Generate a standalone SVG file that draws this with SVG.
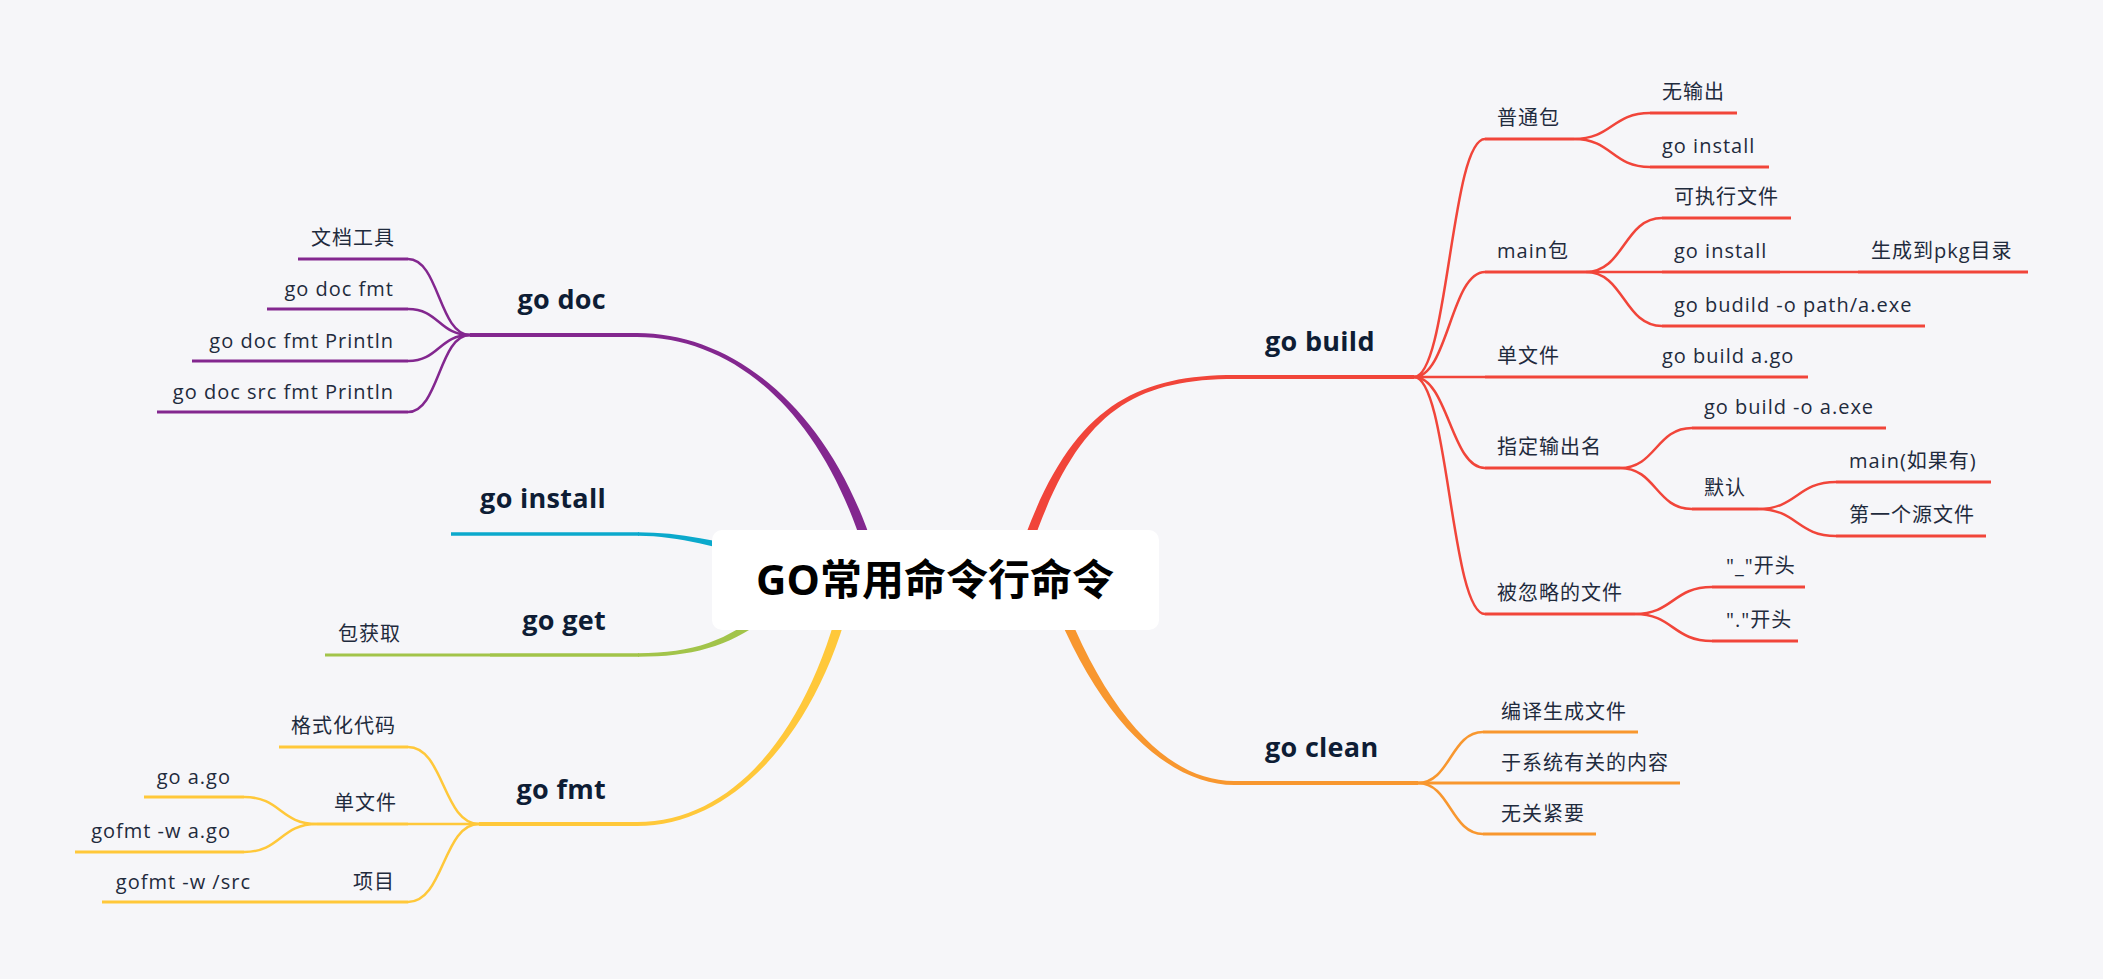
<svg xmlns="http://www.w3.org/2000/svg" width="2103" height="979" viewBox="0 0 2103 979">
<style>
text{font-family:'Open Sans','Noto Sans CJK SC',sans-serif;}
.t{font-size:20px;fill:#1F2B3D;letter-spacing:1px;}
.m{font-size:27px;font-weight:700;fill:#0E1D35;letter-spacing:0.3px;}
.title{font-size:42px;font-weight:700;fill:#000;}
.e{text-anchor:end;}
.c{fill:none;stroke-linecap:butt;}
.l4{stroke-width:4;}
.l3{stroke-width:3;}
.l25{stroke-width:2.5;}
.red{stroke:#F1453A;}
.ora{stroke:#F8972F;}
.pur{stroke:#83278F;}
.blu{stroke:#0BA9CC;}
.grn{stroke:#A2C44A;}
.yel{stroke:#FFC83A;}
</style>
<rect x="0" y="0" width="2103" height="979" fill="#F6F6F9"/>
<g id="connectors">
  <path fill="#F1453A" d="M1014.8,601.3 C1064.8,421.3 1120,379 1235,379 L1235,375 C1120,375 1055.2,418.7 1005.2,598.7 Z"/>
  <path fill="#F8972F" d="M1045.3,581.7 C1095.3,721.7 1170,785 1234,785 L1234,781 C1170,781 1104.7,718.3 1054.7,578.3 Z"/>
  <path fill="#83278F" d="M884.9,588.9 C844.9,418.9 740,333 637,333 L637,337 C740,337 835.1,421.1 875.1,591.1 Z"/>
  <path fill="#0BA9CC" d="M760.85,551.6 C720.85,541.6 680,532.2 638,532.2 L638,535.7 C680,535.7 719.15,548.4 759.15,558.4 Z"/>
  <path fill="#A2C44A" d="M777.2,597.2 C737.2,637.2 700,653.25 638,653.25 L638,656.75 C700,656.75 742.8,642.8 782.8,602.8 Z"/>
  <path fill="#FFC83A" d="M845.1,579 C815.1,719 740,822 637,822 L637,826 C740,826 824.9,721 854.9,581 Z"/>
  <path class="c l4 red" d="M1234,377 H1414"/>
  <path class="c l4 ora" d="M1233,783 H1418"/>
  <path class="c l4 pur" d="M638,335 H470"/>
  <path class="c l4 blu" d="M639,534 H451" style="stroke-width:3.5"/>
  <path class="c l4 grn" d="M639,655 H490" style="stroke-width:3.5"/>
  <path class="c l4 yel" d="M638,824 H479"/>
  <path class="c l25 red" d="M1414,377 C1448,377 1451,139 1485,139"/>
  <path class="c l25 red" d="M1414,377 C1448,377 1451,272 1485,272"/>
  <path class="c l25 red" d="M1414,377 H1485"/>
  <path class="c l25 red" d="M1414,377 C1448,377 1451,468 1485,468"/>
  <path class="c l25 red" d="M1414,377 C1448,377 1451,614 1485,614"/>
  <path class="c l3 red" d="M1485,139 H1574"/>
  <path class="c l3 red" d="M1485,272 H1586"/>
  <path class="c l3 red" d="M1485,377 H1650"/>
  <path class="c l3 red" d="M1485,468 H1620"/>
  <path class="c l3 red" d="M1485,614 H1635"/>
  <path class="c l25 red" d="M1574,139 C1612,139 1612,113 1650,113"/>
  <path class="c l25 red" d="M1574,139 C1612,139 1612,167 1650,167"/>
  <path class="c l3 red" d="M1650,113 H1737"/>
  <path class="c l3 red" d="M1650,167 H1769"/>
  <path class="c l25 red" d="M1586,272 C1624,272 1624,218 1662,218"/>
  <path class="c l25 red" d="M1586,272 H1662"/>
  <path class="c l25 red" d="M1586,272 C1624,272 1624,326 1662,326"/>
  <path class="c l3 red" d="M1662,218 H1791"/>
  <path class="c l3 red" d="M1662,272 H1780"/>
  <path class="c l3 red" d="M1662,326 H1925"/>
  <path class="c l25 red" d="M1780,272 H1858"/>
  <path class="c l3 red" d="M1858,272 H2028"/>
  <path class="c l3 red" d="M1650,377 H1808"/>
  <path class="c l25 red" d="M1620,468 C1656,468 1656,428 1692,428"/>
  <path class="c l25 red" d="M1620,468 C1656,468 1656,509 1692,509"/>
  <path class="c l3 red" d="M1692,428 H1886"/>
  <path class="c l3 red" d="M1692,509 H1758"/>
  <path class="c l25 red" d="M1758,509 C1797,509 1797,482 1836,482"/>
  <path class="c l25 red" d="M1758,509 C1797,509 1797,536 1836,536"/>
  <path class="c l3 red" d="M1836,482 H1991"/>
  <path class="c l3 red" d="M1836,536 H1986"/>
  <path class="c l25 red" d="M1635,614 C1673,614 1673,587 1712,587"/>
  <path class="c l25 red" d="M1635,614 C1673,614 1673,641 1712,641"/>
  <path class="c l3 red" d="M1712,587 H1805"/>
  <path class="c l3 red" d="M1712,641 H1798"/>
  <path class="c l25 ora" d="M1418,783 C1450,783 1451,732 1483,732"/>
  <path class="c l25 ora" d="M1418,783 C1450,783 1451,834 1483,834"/>
  <path class="c l3 ora" d="M1418,783 H1680"/>
  <path class="c l3 ora" d="M1483,732 H1638"/>
  <path class="c l3 ora" d="M1483,834 H1596"/>
  <path class="c l25 pur" d="M470,335 C439,335 439,259 408,259"/>
  <path class="c l25 pur" d="M470,335 C439,335 439,309 408,309"/>
  <path class="c l25 pur" d="M470,335 C439,335 439,361 408,361"/>
  <path class="c l25 pur" d="M470,335 C439,335 439,412 408,412"/>
  <path class="c l3 pur" d="M408,259 H298"/>
  <path class="c l3 pur" d="M408,309 H267"/>
  <path class="c l3 pur" d="M408,361 H192"/>
  <path class="c l3 pur" d="M408,412 H157"/>
  <path class="c l3 grn" d="M490,655 H325"/>
  <path class="c l25 yel" d="M479,824 C443,824 444,747 408,747"/>
  <path class="c l25 yel" d="M479,824 H408"/>
  <path class="c l25 yel" d="M479,824 C443,824 444,902 408,902"/>
  <path class="c l3 yel" d="M408,747 H279"/>
  <path class="c l3 yel" d="M408,824 H317"/>
  <path class="c l3 yel" d="M408,902 H264"/>
  <path class="c l25 yel" d="M317,824 C280,824 281,797 244,797"/>
  <path class="c l25 yel" d="M317,824 C280,824 281,852 244,852"/>
  <path class="c l3 yel" d="M244,797 H144"/>
  <path class="c l3 yel" d="M244,852 H75"/>
  <path class="c l3 yel" d="M264,902 H102"/>
</g>
<g id="root">
  <rect x="712" y="530" width="447" height="100" rx="10" fill="#FFFFFF"/>
  <text class="title" x="935" y="595" text-anchor="middle">GO常用命令行命令</text>
</g>
<g id="go-build"><text class="m" x="1265" y="351">go build</text></g>
<g id="n-putongbao"><text class="t" x="1497" y="125">普通包</text></g>
<g id="n-wushuchu"><text class="t" x="1662" y="99">无输出</text></g>
<g id="n-goinstall1"><text class="t" x="1662" y="153">go install</text></g>
<g id="n-mainbao"><text class="t" x="1497" y="258">main包</text></g>
<g id="n-kezhixing"><text class="t" x="1674" y="204">可执行文件</text></g>
<g id="n-goinstall2"><text class="t" x="1674" y="258">go install</text></g>
<g id="n-pkg"><text class="t" x="1871" y="258">生成到pkg目录</text></g>
<g id="n-budild"><text class="t" x="1674" y="312">go budild -o path/a.exe</text></g>
<g id="n-danwenjian"><text class="t" x="1497" y="363">单文件</text></g>
<g id="n-buildago"><text class="t" x="1662" y="363">go build a.go</text></g>
<g id="n-zhiding"><text class="t" x="1497" y="454">指定输出名</text></g>
<g id="n-buildo"><text class="t" x="1704" y="414">go build -o a.exe</text></g>
<g id="n-moren"><text class="t" x="1704" y="495">默认</text></g>
<g id="n-mainif"><text class="t" x="1849" y="468">main(如果有)</text></g>
<g id="n-first"><text class="t" x="1849" y="522">第一个源文件</text></g>
<g id="n-ignored"><text class="t" x="1497" y="600">被忽略的文件</text></g>
<g id="n-underscore"><text class="t" x="1726" y="573">"_"开头</text></g>
<g id="n-dot"><text class="t" x="1726" y="627">"."开头</text></g>
<g id="go-clean"><text class="m" x="1265" y="757">go clean</text></g>
<g id="n-bianyi"><text class="t" x="1501" y="719">编译生成文件</text></g>
<g id="n-xitong"><text class="t" x="1501" y="770">于系统有关的内容</text></g>
<g id="n-wuguan"><text class="t" x="1501" y="821">无关紧要</text></g>
<g id="go-doc"><text class="m e" x="606" y="309">go doc</text></g>
<g id="n-wendang"><text class="t e" x="395" y="245">文档工具</text></g>
<g id="n-docfmt"><text class="t e" x="394" y="296">go doc fmt</text></g>
<g id="n-docprintln"><text class="t e" x="394" y="348">go doc fmt Println</text></g>
<g id="n-docsrc"><text class="t e" x="394" y="399">go doc src fmt Println</text></g>
<g id="go-install"><text class="m e" x="606" y="508">go install</text></g>
<g id="go-get"><text class="m e" x="606" y="630">go get</text></g>
<g id="n-baohuoqu"><text class="t" x="338" y="641">包获取</text></g>
<g id="go-fmt"><text class="m e" x="606" y="799">go fmt</text></g>
<g id="n-geshihua"><text class="t e" x="396" y="733">格式化代码</text></g>
<g id="n-danwenjian2"><text class="t e" x="397" y="810">单文件</text></g>
<g id="n-goago"><text class="t e" x="231" y="784">go a.go</text></g>
<g id="n-gofmtago"><text class="t e" x="231" y="838">gofmt -w a.go</text></g>
<g id="n-xiangmu"><text class="t e" x="395" y="889">项目</text></g>
<g id="n-gofmtsrc"><text class="t e" x="251" y="889">gofmt -w /src</text></g>
</svg>
